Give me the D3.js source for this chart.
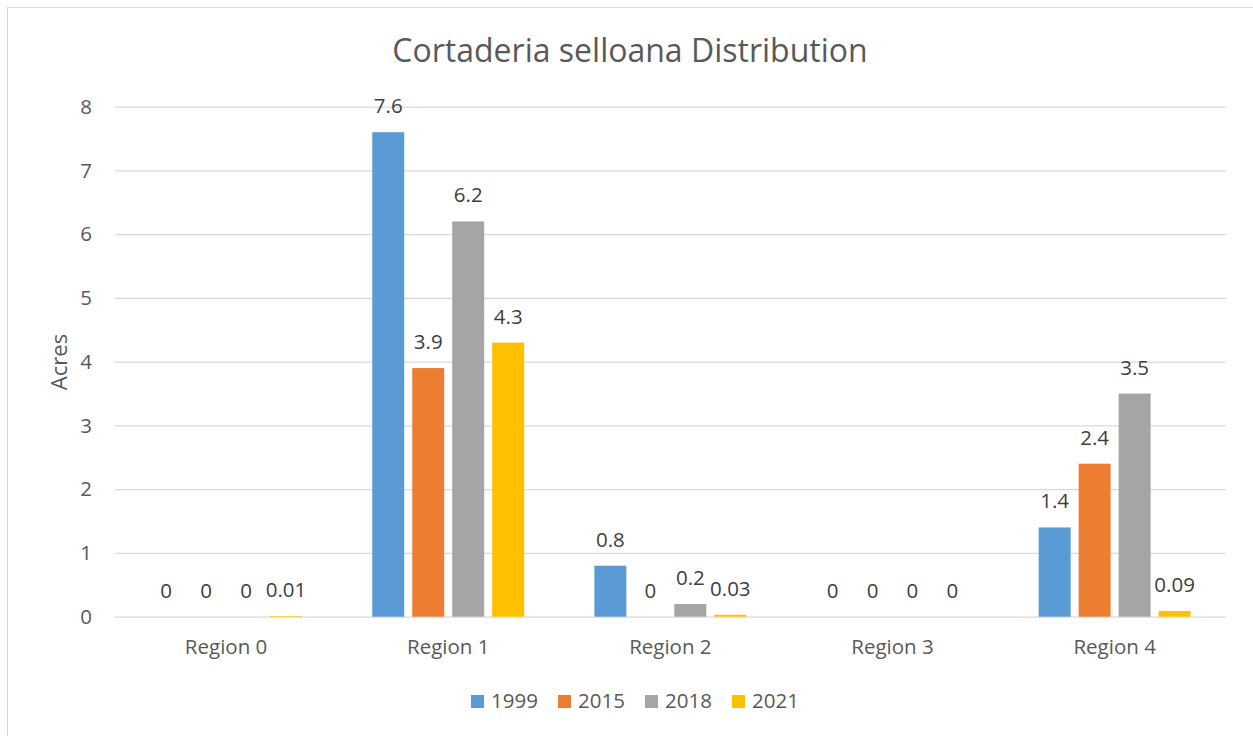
<!DOCTYPE html>
<html>
<head>
<meta charset="utf-8">
<script src="https://cdn.jsdelivr.net/npm/d3@7"></script>
<style>
  body { margin: 0; background: #fff; }
  text { font-family: "Open Sans", sans-serif; }
</style>
</head>
<body>
<div id="chart"></div>
<script>
// data
const regions = ["Region 0", "Region 1", "Region 2", "Region 3", "Region 4"];
const years = ["1999", "2015", "2018", "2021"];
const s1999 = [0, 7.6, 0.8, 0, 1.4];
const s2015 = [0, 3.9, 0, 0, 2.4];
const s2018 = [0, 6.2, 0.2, 0, 3.5];
const s2021 = [0.01, 4.3, 0.03, 0, 0.09];
const yTicks = [0, 1, 2, 3, 4, 5, 6, 7, 8];

const seriesValues = [s1999, s2015, s2018, s2021];
const colors = ["#5B9BD5", "#ED7D31", "#A5A5A5", "#FFC000"];

let width = 1253, height = 736;
let plot = {left: 115, right: 1225.7, top: 106.7, bottom: 616.7};
let labelSize = "20.5px";

let svg = d3.select("#chart").append("svg")
    .attr("width", width)
    .attr("height", height);

// chart border (only top/left show in the frame)
svg.append("rect")
    .attr("x", 7.5).attr("y", 7.5)
    .attr("width", 1300).attr("height", 800)
    .attr("fill", "none")
    .attr("stroke", "#D9D9D9");

let x0 = d3.scaleBand()
    .domain(regions)
    .range([plot.left, plot.right])
    .paddingInner(0.316)
    .paddingOuter(0.158);

let x1 = d3.scaleBand()
    .domain(years)
    .range([0, x0.bandwidth()])
    .paddingInner(0.2);

let y = d3.scaleLinear()
    .domain([0, 8])
    .range([plot.bottom, plot.top]);

// gridlines + y labels
let yAxis = d3.axisLeft(y)
    .tickValues(yTicks)
    .tickSize(-(plot.right - plot.left))
    .tickPadding(23);

let yg = svg.append("g")
    .attr("transform", `translate(${plot.left},0)`)
    .call(yAxis);
yg.select(".domain").remove();
yg.selectAll(".tick line").attr("stroke", "#D9D9D9").attr("stroke-width", 1.3);
yg.selectAll(".tick text")
    .attr("fill", "#595959")
    .style("font-size", labelSize);

// x labels
let xAxis = d3.axisBottom(d3.scaleBand().domain(regions).range([plot.left, plot.right]))
    .tickSize(0)
    .tickPadding(23);
let xg = svg.append("g")
    .attr("transform", `translate(0,${plot.bottom})`)
    .call(xAxis);
xg.select(".domain").remove();
xg.selectAll(".tick text")
    .attr("fill", "#595959")
    .style("font-size", labelSize);

// bars
let rows = regions.map((r, i) => ({
  region: r,
  vals: years.map((yr, j) => ({year: yr, idx: j, value: seriesValues[j][i]}))
}));

let groups = svg.append("g").selectAll("g.region")
    .data(rows)
    .join("g")
    .attr("class", "region")
    .attr("transform", d => `translate(${x0(d.region)},0)`);

groups.selectAll("rect")
    .data(d => d.vals)
    .join("rect")
    .attr("x", d => x1(d.year))
    .attr("width", x1.bandwidth())
    .attr("y", d => y(d.value))
    .attr("height", d => y(0) - y(d.value))
    .attr("fill", d => colors[d.idx]);

groups.selectAll("text")
    .data(d => d.vals)
    .join("text")
    .attr("x", d => x1(d.year) + x1.bandwidth() / 2)
    .attr("y", d => y(d.value) - 19)
    .attr("text-anchor", "middle")
    .attr("fill", "#404040")
    .style("font-size", labelSize)
    .text(d => String(d.value));

// title
svg.append("text")
    .attr("x", 630)
    .attr("y", 62)
    .attr("text-anchor", "middle")
    .attr("fill", "#595959")
    .style("font-size", "32px")
    .text("Cortaderia selloana Distribution");

// y axis title
svg.append("text")
    .attr("transform", "translate(67,362) rotate(-90)")
    .attr("text-anchor", "middle")
    .attr("fill", "#595959")
    .style("font-size", "22px")
    .text("Acres");

// legend
let legend = svg.append("g").selectAll("g.item")
    .data(years)
    .join("g")
    .attr("class", "item")
    .attr("transform", (d, i) => `translate(${471 + i * 87},695)`);

legend.append("rect")
    .attr("width", 13).attr("height", 13)
    .attr("fill", (d, i) => colors[i]);

legend.append("text")
    .attr("x", 20)
    .attr("y", 13)
    .attr("fill", "#595959")
    .style("font-size", labelSize)
    .text(d => d);
</script>
</body>
</html>
